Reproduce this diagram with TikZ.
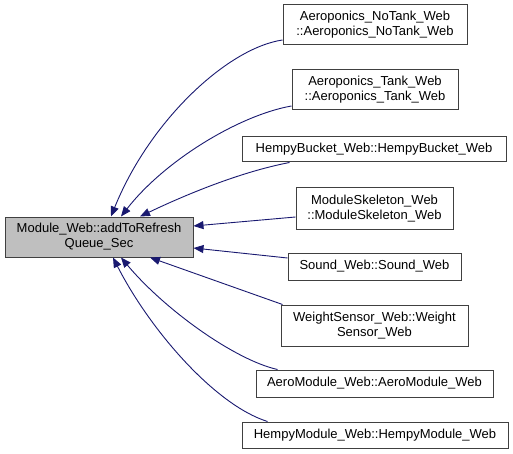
\documentclass[tikz,border=0pt]{standalone}
\usepackage{fontspec}
\setmainfont{Liberation Sans}
\usetikzlibrary{arrows.meta}
\definecolor{edgeblue}{HTML}{191970}
\begin{document}
\begin{tikzpicture}[x=1pt,y=-1pt,
  box/.style={draw=black!75, line width=1pt, fill=white, align=center, inner sep=0pt,
    font=\fontsize{13}{15}\selectfont},
  mainbox/.style={box, fill=black!25},
  edge/.style={draw=edgeblue, line width=0.9pt, -{Triangle[length=10pt,width=8pt]}, edgeblue}]
\useasboundingbox (0,0) rectangle (513,454);
\node[mainbox, minimum width=188pt, minimum height=40pt] (main) at (99,237) {Module\_Web::addToRefresh\\Queue\_Sec};
\node[box, minimum width=184pt, minimum height=40pt] (n1) at (375,25) {Aeroponics\_NoTank\_Web\\::Aeroponics\_NoTank\_Web};
\node[box, minimum width=166pt, minimum height=40pt] (n2) at (375,90) {Aeroponics\_Tank\_Web\\::Aeroponics\_Tank\_Web};
\node[box, minimum width=264pt, minimum height=25pt] (n3) at (374,149.5) {HempyBucket\_Web::HempyBucket\_Web};
\node[box, minimum width=157pt, minimum height=41pt] (n4) at (374.5,208.5) {ModuleSkeleton\_Web\\::ModuleSkeleton\_Web};
\node[box, minimum width=173pt, minimum height=27pt] (n5) at (374.5,266.5) {Sound\_Web::Sound\_Web};
\node[box, minimum width=187pt, minimum height=41pt] (n6) at (374.5,325.5) {WeightSensor\_Web::Weight\\Sensor\_Web};
\node[box, minimum width=237pt, minimum height=27pt] (n7) at (374.5,383.5) {AeroModule\_Web::AeroModule\_Web};
\node[box, minimum width=266pt, minimum height=26pt] (n8) at (375,435) {HempyModule\_Web::HempyModule\_Web};

\draw[edge] ([yshift=-15pt]n1.west) .. controls (228,48) and (150,120) .. ([xshift=12pt]main.north);
\draw[edge] ([yshift=-16pt]n2.west) .. controls (240,115) and (165,160) .. ([xshift=22pt]main.north);
\draw[edge] ([xshift=48pt]n3.south west) .. controls (240,172) and (185,195) .. ([xshift=41pt]main.north);
\draw[edge] ([yshift=-8.5pt]n4.west) -- ([yshift=11pt]main.east);
\draw[edge] ([yshift=8.5pt]n5.west) -- ([yshift=-11pt]main.east);
\draw[edge] ([xshift=2pt]n6.north west) -- ([xshift=51pt]main.south);
\draw[edge] ([xshift=22pt]n7.north west) .. controls (235,360) and (165,310) .. ([xshift=22pt]main.south);
\draw[edge] ([xshift=26pt]n8.north west) .. controls (215,405) and (150,330) .. ([xshift=14pt]main.south);
\end{tikzpicture}
\end{document}
